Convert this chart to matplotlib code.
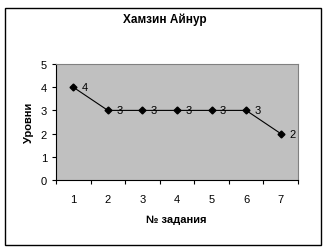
import matplotlib
matplotlib.use("Agg")
import matplotlib.pyplot as plt
from matplotlib.patches import Rectangle

tasks = [1, 2, 3, 4, 5, 6, 7]
levels = [4, 3, 3, 3, 3, 3, 2]
title = "Хамзин Айнур"
xlabel = "№ задания"
ylabel = "Уровни"

plt.rcParams['font.family'] = ['Liberation Sans', 'DejaVu Sans']

fig = plt.figure(figsize=(3.25, 2.53), dpi=100)
fig.patch.set_facecolor('white')
fig.add_artist(Rectangle((5/325, 1 - 246/253), 316/325, 237/253, transform=fig.transFigure,
                         fill=False, edgecolor='black', linewidth=1))

ax = fig.add_axes([56/325, 1 - 181/253, 242/325, 116/253])
ax.set_facecolor('#c0c0c0')
ax.plot(tasks, levels, color='black', linewidth=0.8, marker='D', markersize=3.5)
for x, y in zip(tasks, levels):
    ax.annotate(str(y), (x, y), xytext=(6, 0), textcoords='offset points',
                ha='left', va='center', fontsize=8)

ax.set_xlim(0.5, 7.5)
ax.set_ylim(0, 5)
ax.set_xticks([i + 0.5 for i in range(0, 8)])
ax.set_xticklabels([])
ax.set_xticks(tasks, minor=True)
ax.set_xticklabels([str(t) for t in tasks], minor=True, fontsize=8)
ax.tick_params(axis='x', which='minor', length=0, pad=10)
ax.tick_params(axis='x', which='major', direction='out', length=3)
ax.set_yticks([0, 1, 2, 3, 4, 5])
ax.tick_params(axis='y', direction='out', length=3, labelsize=8)

for s in ['top', 'right']:
    ax.spines[s].set_color('#808080')
ax.spines['left'].set_color('black')
ax.spines['bottom'].set_color('black')

fig.text(165/325, 1 - 20/253, title, ha='center', va='center', fontsize=8.5, fontweight='bold')
fig.text(176/325, 1 - 220/253, xlabel, ha='center', va='center', fontsize=8, fontweight='bold')
fig.text(29/325, 1 - 123/253, ylabel, ha='center', va='center', fontsize=8, fontweight='bold', rotation=90)

fig.savefig('out.png', dpi=100)
